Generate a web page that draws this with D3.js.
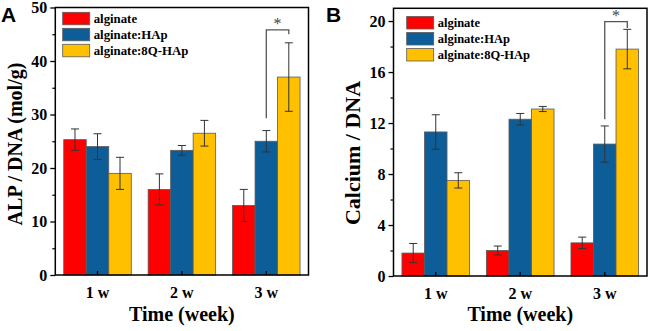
<!DOCTYPE html>
<html>
<head>
<meta charset="utf-8">
<script src="https://cdn.jsdelivr.net/npm/d3@7"></script>
<style>
  body { margin: 0; background: #fff; }
  svg { display: block; }
</style>
</head>
<body>
<svg id="chart" width="650" height="331"></svg>
<script>
// data
const weeks = ['1 w', '2 w', '3 w'];
const series = ['alginate', 'alginate:HAp', 'alginate:8Q-HAp'];
const colors = ['#ff0000', '#0d5e98', '#ffc000'];

// panel A: ALP / DNA
const alpMean = [
  [25.3, 16.0, 13.0],
  [24.0, 23.3, 25.0],
  [19.0, 26.5, 37.0]
];
const alpErr = [
  [2.0, 2.9, 3.0],
  [2.4, 0.9, 2.0],
  [3.0, 2.4, 6.4]
];
const alpTicks = [0, 10, 20, 30, 40, 50];
const alpMinor = [5, 15, 25, 35, 45];
const alpSig = { from: 1, to: 2, group: 2, top: 45.8, leftEnd: 29.3, rightEnd: 45.0 };

// panel B: Calcium / DNA
const caMean = [
  [1.8, 2.0, 2.6],
  [11.3, 12.3, 10.35],
  [7.5, 13.1, 17.8]
];
const caErr = [
  [0.75, 0.35, 0.45],
  [1.35, 0.45, 1.42],
  [0.6, 0.2, 1.55]
];
const caTicks = [0, 4, 8, 12, 16, 20];
const caMinor = [2, 6, 10, 14, 18];
const caSig = { from: 1, to: 2, group: 2, top: 19.95, leftEnd: 12.3, rightEnd: 19.45 };

const svg = d3.select('#chart');
const serif = '"Liberation Serif", "Times New Roman", serif';

function drawPanel(p) {
  const g = svg.append('g');
  const y = d3.scaleLinear().domain(p.yDomain).range([p.bottom, p.top]);
  const x0 = d3.scaleBand().domain(weeks).range([p.left, p.right])
    .paddingInner(0.2).paddingOuter(0.1);
  const x1 = d3.scaleBand().domain(series).range([0, x0.bandwidth()]);

  // bars
  let rows = [];
  series.forEach((s, si) => {
    weeks.forEach((w, wi) => {
      rows.push({ s: s, si: si, w: w, v: p.mean[si][wi], e: p.err[si][wi] });
    });
  });
  g.selectAll('rect.bar').data(rows).enter().append('rect')
    .attr('class', 'bar')
    .attr('x', d => x0(d.w) + x1(d.s))
    .attr('width', x1.bandwidth())
    .attr('y', d => y(d.v))
    .attr('height', d => y(0) - y(d.v))
    .style('fill', d => colors[d.si])
    .style('stroke', '#5a5a5a')
    .style('stroke-width', 0.8);

  // error bars
  const cap = 4;
  let eb = g.selectAll('g.err').data(rows).enter().append('g').attr('class', 'err')
    .style('stroke', '#333').style('stroke-width', 1);
  eb.append('line')
    .attr('x1', d => x0(d.w) + x1(d.s) + x1.bandwidth()/2)
    .attr('x2', d => x0(d.w) + x1(d.s) + x1.bandwidth()/2)
    .attr('y1', d => y(d.v + d.e))
    .attr('y2', d => y(d.v - d.e));
  eb.append('line')
    .attr('x1', d => x0(d.w) + x1(d.s) + x1.bandwidth()/2 - cap)
    .attr('x2', d => x0(d.w) + x1(d.s) + x1.bandwidth()/2 + cap)
    .attr('y1', d => y(d.v + d.e))
    .attr('y2', d => y(d.v + d.e));
  eb.append('line')
    .attr('x1', d => x0(d.w) + x1(d.s) + x1.bandwidth()/2 - cap)
    .attr('x2', d => x0(d.w) + x1(d.s) + x1.bandwidth()/2 + cap)
    .attr('y1', d => y(d.v - d.e))
    .attr('y2', d => y(d.v - d.e));

  // significance bracket
  const sg = p.sig;
  const xa = x0(weeks[sg.group]) + x1(series[sg.from]) + x1.bandwidth()/2;
  const xb = x0(weeks[sg.group]) + x1(series[sg.to]) + x1.bandwidth()/2;
  g.append('path')
    .attr('d', `M${xa},${y(sg.leftEnd)}V${y(sg.top)}H${xb}V${y(sg.rightEnd)}`)
    .style('fill', 'none').style('stroke', '#555').style('stroke-width', 1.3);
  g.append('text')
    .attr('x', (xa + xb)/2).attr('y', y(sg.top) - 1)
    .attr('text-anchor', 'middle')
    .style('font-family', serif).style('font-size', '16px').style('fill', '#444')
    .text('*');

  // frame
  g.append('rect')
    .attr('x', p.left).attr('y', p.top)
    .attr('width', p.right - p.left).attr('height', p.bottom - p.top)
    .style('fill', 'none').style('stroke', '#000').style('stroke-width', 1.5);

  // y axis
  const ya = g.append('g').attr('transform', `translate(${p.left},0)`)
    .call(d3.axisLeft(y).tickValues(p.ticks).tickSize(5).tickPadding(3));
  ya.select('.domain').remove();
  ya.selectAll('line').style('stroke-width', 1.3);
  ya.selectAll('text').style('font-family', serif).style('font-weight', 'bold')
    .style('font-size', '16px').attr('fill', '#000');
  const ym = g.append('g').attr('transform', `translate(${p.left},0)`)
    .call(d3.axisLeft(y).tickValues(p.minor).tickSize(3).tickFormat(''));
  ym.select('.domain').remove();
  ym.selectAll('line').style('stroke-width', 1.2);

  // x axis (ticks inward)
  const xa2 = g.append('g').attr('transform', `translate(0,${p.bottom})`)
    .call(d3.axisBottom(x0).tickSizeInner(-4).tickSizeOuter(0).tickPadding(12));
  xa2.select('.domain').remove();
  xa2.selectAll('line').style('stroke-width', 1.3);
  xa2.selectAll('text').style('font-family', serif).style('font-weight', 'bold')
    .style('font-size', '16px').attr('fill', '#000');

  // legend
  const lg = g.append('g').attr('transform', `translate(${p.legX},${p.legY})`);
  series.forEach((s, i) => {
    lg.append('rect')
      .attr('x', 0).attr('y', i * 16)
      .attr('width', 27).attr('height', 12.5)
      .style('fill', colors[i]).style('stroke', '#5a5a5a').style('stroke-width', 0.8);
    lg.append('text')
      .attr('x', 31).attr('y', i * 16 + 10.5)
      .style('font-family', serif).style('font-weight', 'bold')
      .style('font-size', p.legFont + 'px')
      .text(s);
  });

  // axis titles
  g.append('text')
    .attr('transform', `translate(${p.yLabX},${p.yLabY}) rotate(-90)`)
    .attr('text-anchor', 'middle')
    .style('font-family', serif).style('font-weight', 'bold')
    .style('font-size', p.yLabSize + 'px')
    .text(p.yLabel);
  g.append('text')
    .attr('x', (p.left + p.right)/2).attr('y', 321)
    .attr('text-anchor', 'middle')
    .style('font-family', serif).style('font-weight', 'bold')
    .style('font-size', '20px')
    .text('Time (week)');

  // panel letter
  g.append('text')
    .attr('x', p.letX).attr('y', 22)
    .style('font-family', '"Liberation Sans", Arial, sans-serif').style('font-weight', 'bold')
    .style('font-size', '21px')
    .text(p.letter);
}

drawPanel({
  letter: 'A', letX: 1,
  left: 55.3, right: 308.5, top: 7.5, bottom: 275,
  yDomain: [0, 50], ticks: alpTicks, minor: alpMinor,
  mean: alpMean, err: alpErr, sig: alpSig,
  legX: 62.7, legY: 12.3, legFont: 12.8,
  yLabel: 'ALP / DNA (mol/g)', yLabX: 22, yLabY: 144, yLabSize: 20
});

drawPanel({
  letter: 'B', letX: 326,
  left: 393.5, right: 647, top: 8.3, bottom: 276,
  yDomain: [0, 21], ticks: caTicks, minor: caMinor,
  mean: caMean, err: caErr, sig: caSig,
  legX: 406.7, legY: 16.5, legFont: 12.5,
  yLabel: 'Calcium / DNA', yLabX: 360, yLabY: 153, yLabSize: 22
});
</script>
</body>
</html>
